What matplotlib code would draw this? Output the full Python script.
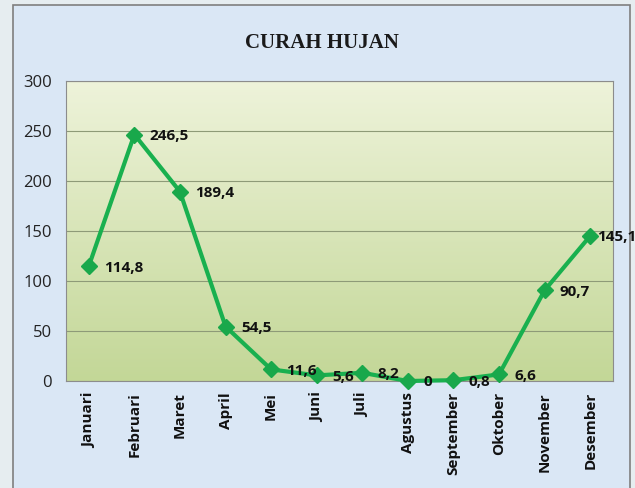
import matplotlib
matplotlib.use("Agg")
import matplotlib.pyplot as plt
import numpy as np
from matplotlib.patches import Rectangle

months = ["Januari", "Februari", "Maret", "April", "Mei", "Juni", "Juli",
          "Agustus", "September", "Oktober", "November", "Desember"]
rain = [114.8, 246.5, 189.4, 54.5, 11.6, 5.6, 8.2, 0, 0.8, 6.6, 90.7, 145.1]
labels = ["114,8", "246,5", "189,4", "54,5", "11,6", "5,6", "8,2", "0", "0,8", "6,6", "90,7", "145,1"]
yticks = [0, 50, 100, 150, 200, 250, 300]

W, H = 635, 488
fig = plt.figure(figsize=(W / 100, H / 100), dpi=100)
fig.patch.set_facecolor("#e6edf0")

# chart frame
frame = Rectangle((13 / W, -0.01), (630 - 13) / W, (H - 5) / H + 0.01,
                  transform=fig.transFigure, facecolor="#dae7f5",
                  edgecolor="#7f7f7f", linewidth=1.2, zorder=-5)
fig.patches.append(frame)

left, right, top, bottom = 66, 613, 81, 381
ax = fig.add_axes([left / W, 1 - bottom / H, (right - left) / W, (bottom - top) / H])
ax.set_zorder(2)
ax.set_facecolor("none")

# gradient background in plot area
grad = np.linspace(0, 1, 256).reshape(-1, 1)
c_top = np.array([0xee, 0xf3, 0xda]) / 255
c_bot = np.array([0xc3, 0xd7, 0x97]) / 255
img = c_top[None, None, :] * (1 - grad[:, :, None]) + c_bot[None, None, :] * grad[:, :, None]
ax.imshow(img, extent=[-0.5, 11.5, 0, 300], aspect="auto", origin="upper", zorder=0)

x = np.arange(len(months))
ax.plot(x, rain, color="#19b04f", linewidth=3, marker="D", markersize=8,
        markerfacecolor="#19a84b", markeredgecolor="#19a84b", zorder=3, clip_on=False)

for i, (xi, yi, lab) in enumerate(zip(x, rain, labels)):
    dx = 11 if i < len(months) - 1 else 5
    ax.annotate(lab, (xi, yi), xytext=(dx, -1), textcoords="offset points",
                ha="left", va="center", fontsize=11, fontweight="bold",
                family=["Open Sans", "DejaVu Sans"], color="#111111", zorder=4,
                annotation_clip=False)

ax.set_xlim(-0.5, 11.5)
ax.set_ylim(0, 300)
ax.set_yticks(yticks)
ax.set_yticklabels([str(v) for v in yticks], fontsize=12, family=["Open Sans", "DejaVu Sans"], color="#222222")
ax.set_xticks(x)
ax.set_xticklabels(months, rotation=90, fontsize=11, fontweight="bold",
                   family=["Open Sans", "DejaVu Sans"], color="#111111")
ax.tick_params(axis="both", length=0)
ax.tick_params(axis="y", pad=10)
ax.tick_params(axis="x", pad=8)
ax.grid(axis="y", color="#8e9a78", linewidth=0.8, zorder=1)
ax.set_axisbelow(True)
for s in ax.spines.values():
    s.set_color("#8c8c8c")
    s.set_linewidth(0.8)

fig.text(322 / W, 1 - 43 / H, "CURAH HUJAN", ha="center", va="center",
         fontsize=15, fontweight="bold", family=["Liberation Serif", "DejaVu Serif"],
         color="#1a1a1a")

fig.savefig("out.png", dpi=100)
